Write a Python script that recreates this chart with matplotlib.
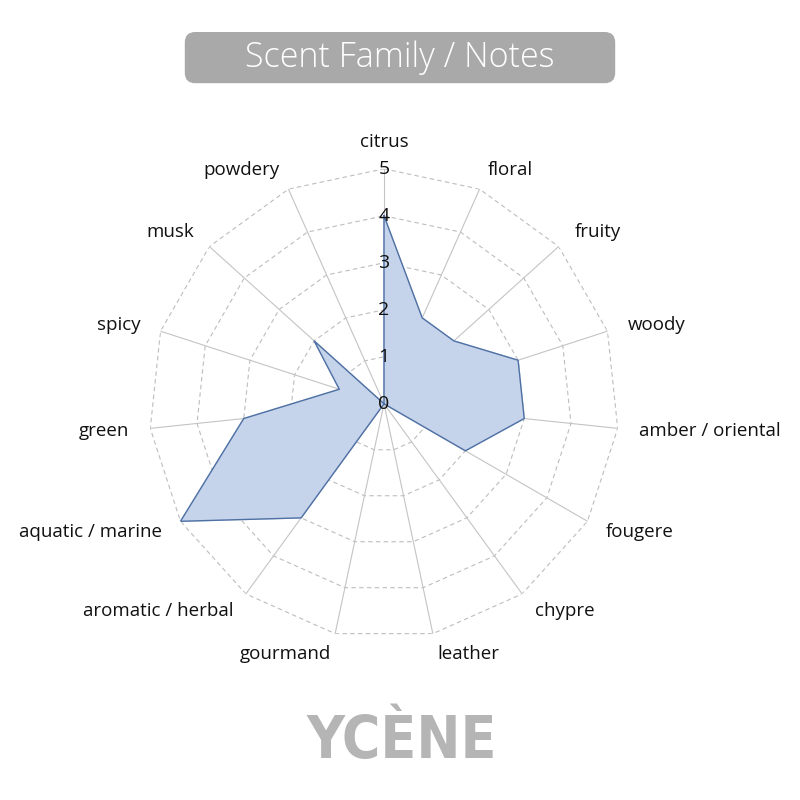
import numpy as np
import matplotlib.pyplot as plt
from matplotlib.patches import FancyBboxPatch

# データ
categories = ["citrus", "floral", "fruity", "woody", "amber / oriental", "fougere",
              "chypre", "leather", "gourmand", "aromatic / herbal", "aquatic / marine",
              "green", "spicy", "musk", "powdery"]
values = [4, 2, 2, 3, 3, 2, 0, 0, 0, 3, 5, 3, 1, 2, 0]
r_ticks = [0, 1, 2, 3, 4, 5]
title = "Scent Family / Notes"
brand = "YCÈNE"

plt.rcParams['font.family'] = ['Open Sans', 'DejaVu Sans']

fig = plt.figure(figsize=(8, 8), dpi=100)
ax = fig.add_axes([0.18625, 0.2015, 0.5875, 0.5875], projection='polar')
ax.set_theta_zero_location('N')
ax.set_theta_direction(-1)
ax.set_ylim(0, 5)
ax.grid(False)
ax.spines['polar'].set_visible(False)
ax.set_xticks([])
ax.set_yticks([])

n = len(categories)
angles = np.linspace(0, 2 * np.pi, n, endpoint=False)
closed = np.append(angles, angles[0])

# 多角形のグリッド
for r in r_ticks[1:]:
    ax.plot(closed, [r] * (n + 1), color='#bdbdbd', lw=0.8, ls=(0, (4, 3)), zorder=1)
# 放射線
for a in angles:
    ax.plot([a, a], [0, 5], color='#c4c4c4', lw=0.8, zorder=1)

# データ
vals = np.append(values, values[0])
ax.fill(closed, vals, color='#c5d4eb', zorder=2)
ax.plot(closed, vals, color='#4f70a3', lw=1.0, zorder=3)

# 目盛りラベル
for r in r_ticks:
    ax.text(0, r, str(r), ha='center', va='center', fontsize=14, color='#111111', zorder=4)

# カテゴリラベル
for a, lab in zip(angles, categories):
    s = np.sin(a)
    if s > 0.1:
        ha = 'left'
    elif s < -0.1:
        ha = 'right'
    else:
        ha = 'center'
    rr = 5.57 if ha == 'center' else 5.45
    ax.text(a, rr, lab, ha=ha, va='center', fontsize=13.5, color='#111111')

# タイトル
box = FancyBboxPatch((0.231, 0.896), 0.538, 0.064, boxstyle="round,pad=0,rounding_size=0.013",
                     transform=fig.transFigure, facecolor='#a9a9a9', edgecolor='none')
fig.patches.append(box)
fig.text(0.5, 0.928, title, ha='center', va='center', fontsize=24.5, color='white',
         fontweight='light')

# ロゴ
fig.text(0.502, 0.073, brand, ha='center', va='center', fontsize=42, color='#b5b5b5',
         fontweight='bold', fontstretch='condensed', family=['DejaVu Sans'])

fig.savefig('out.png', dpi=100)
